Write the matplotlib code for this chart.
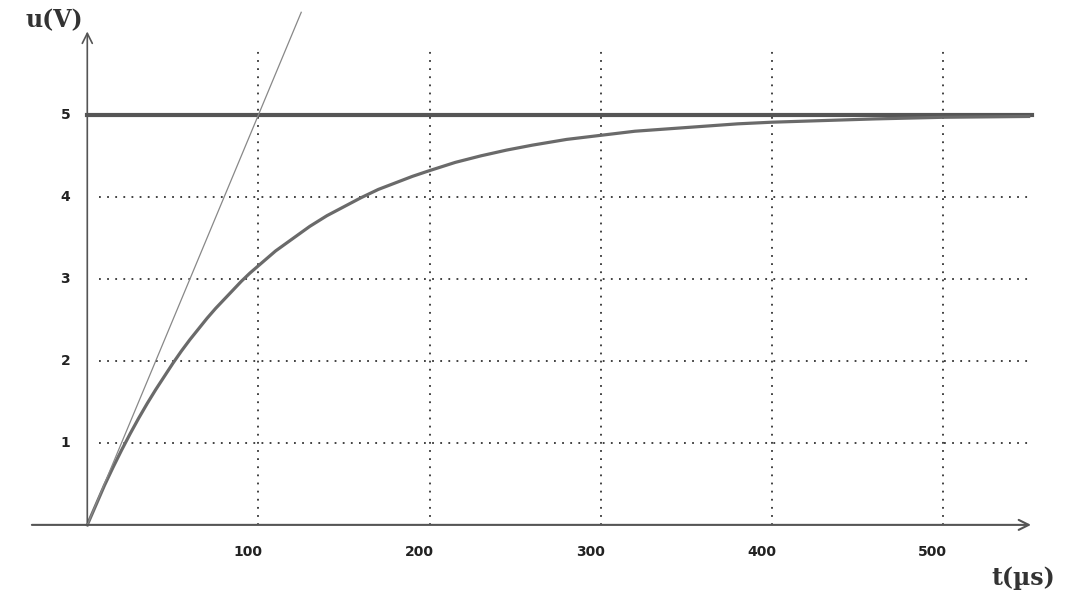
import matplotlib.pyplot as plt

# charging curve u(t)
t_us = [0, 5, 10, 15, 20, 25, 30, 35, 40, 45, 50, 55, 60, 65, 70, 75, 80, 85,
        90, 95, 100, 110, 120, 130, 140, 150, 160, 170, 180, 190, 200, 215, 230,
        245, 260, 280, 300, 320, 340, 360, 380, 400, 430, 460, 500, 550]
u_v = [0, 0.24, 0.48, 0.70, 0.91, 1.11, 1.30, 1.48, 1.65, 1.81, 1.97, 2.12,
       2.26, 2.39, 2.52, 2.64, 2.75, 2.86, 2.97, 3.07, 3.16, 3.34, 3.49, 3.64,
       3.77, 3.88, 3.99, 4.09, 4.17, 4.25, 4.32, 4.42, 4.50, 4.57, 4.63, 4.70,
       4.75, 4.80, 4.83, 4.86, 4.89, 4.91, 4.93, 4.95, 4.97, 4.98]

# tangent at origin and asymptote
tangent_t = [0, 125]
tangent_u = [0, 6.25]
asym_t = [0, 552]
asym_u = [5, 5]

x_ticks = [100, 200, 300, 400, 500]
y_ticks = [1, 2, 3, 4, 5]

fig = plt.figure(figsize=(10.8, 6.11), dpi=100)
ax = fig.add_axes([0, 0, 1, 1])
ax.set_xlim(-51, 580)
ax.set_ylim(-1.05, 6.4)
ax.axis('off')

# dotted grid
for x in x_ticks:
    ax.plot([x, x], [0, 5.8], color='#333333', lw=1.3, ls=(0, (1, 3.5)))
for y in y_ticks[:-1]:
    ax.plot([7, 550], [y, y], color='#333333', lw=1.3, ls=(0, (1, 3.5)))

# axes with arrows
ax.annotate('', xy=(553, 0), xytext=(-34, 0),
            arrowprops=dict(arrowstyle='->', color='#555555', lw=1.5, mutation_scale=18))
ax.annotate('', xy=(0, 6.05), xytext=(0, 0),
            arrowprops=dict(arrowstyle='->', color='#555555', lw=1.2, mutation_scale=18))

ax.plot(asym_t, asym_u, color='#555555', lw=3)
ax.plot(t_us, u_v, color='#6a6a6a', lw=2.3)
ax.plot(tangent_t, tangent_u, color='#888888', lw=0.9)

for y in y_ticks:
    ax.text(-10, y, str(y), ha='right', va='center', fontsize=10, fontweight='bold', color='#222222')
for x in x_ticks:
    ax.text(x - 6, -0.33, str(x), ha='center', va='center', fontsize=10, fontweight='bold', color='#222222')

ax.text(-19, 6.15, 'u(V)', ha='center', va='center', fontsize=17, fontweight='bold',
        family='DejaVu Serif', color='#333333')
ax.text(528, -0.65, 't(µs)', ha='left', va='center', fontsize=17, fontweight='bold',
        family='DejaVu Serif', color='#333333')

fig.savefig('out.png', dpi=100)
